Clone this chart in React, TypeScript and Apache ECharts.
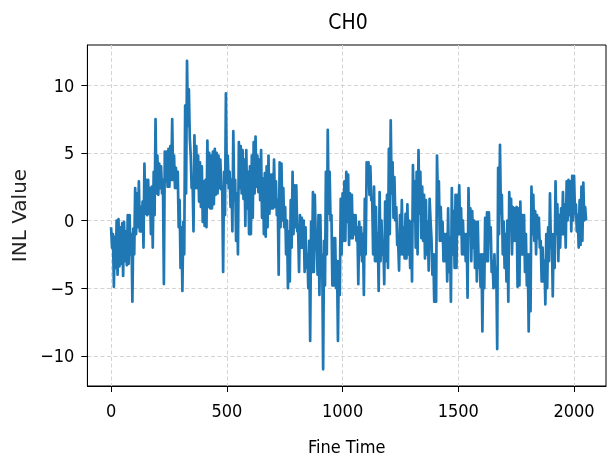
import React, { useEffect, useRef } from "react";
import * as echarts from "echarts";

const STEP = 8;
const upper0 = [-0.5, -1.0, -1.2, 0.0, 0.1, -0.5, -0.2, -0.1, -0.8, 0.4, 0.4, -1.0, -0.6, 2.4, 2.0, 2.9, 1.0, 1.4, 4.2, 3.0, 3.0, 2.4, 2.5, 3.6, 7.5, 4.8, 4.2, 4.0, 3.0, 5.1, 5.1, 5.3, 5.5, 7.5, 4.8];
const lower0 = [-2.0, -4.9, -3.5, -4.0, -3.4, -3.2, -4.1, -3.0, -3.3, -3.2, -2.5, -6.0, -2.5, -1.0, -0.5, -0.8, -0.8, -2.0, 0.5, 0.4, 0.5, -1.0, -2.0, 0.4, 2.0, 1.9, 2.4, 2.0, -4.7, 2.9, 2.5, 2.5, 3.0, 3.0, 2.4];
const upper1 = [3.9, 3.6, 1.5, -0.5, -0.1, 8.5, 11.8, 9.7, 4.8, 3.0, 6.3, 5.5, 4.8, 4.3, 4.0, 2.9, 3.0, 5.9, 5.0, 4.8, 5.1, 5.3, 5.0, 4.8, 4.5, 2.5, 3.6, 9.4, 4.8, 3.6, 3.0, 6.6, 3.0, 2.0, 5.8, 5.5, 5.2];
const lower1 = [2.4, -0.5, -3.5, -5.2, -2.5, 2.0, 7.0, 6.1, 2.4, -0.8, 2.4, 2.4, 1.4, 1.0, -0.1, -0.4, -0.5, 1.0, 0.9, 0.9, 1.2, 1.9, 2.0, 2.4, 2.3, -3.8, 0.4, 2.8, 2.4, 1.0, -0.8, 1.5, -1.5, -2.5, 2.4, 2.0, 1.6];
const upper2 = [4.5, 5.2, 3.6, 4.0, 4.8, 5.8, 6.2, 4.8, 4.5, 5.2, 3.1, 3.5, 4.0, 4.8, 3.4, 3.4, 4.5, 2.9, 1.5, 4.3, 4.2, 2.4, 1.0, 0.0, -0.8, 1.5, 3.6, 2.6, 2.6, -0.6, 0.4, 0.2, 0.0, -0.5, -2.5, -1.5, -0.1];
const lower2 = [-0.4, 0.9, -1.0, -1.0, 0.2, 2.0, 2.5, 2.1, 1.5, 0.2, -1.0, -1.2, -0.5, 0.5, 0.9, 0.9, 1.0, 0.4, -4.0, -0.5, 0.0, -0.5, -2.5, -5.0, -4.5, -2.0, -1.0, -0.5, -0.8, -3.8, -2.0, -2.0, -3.8, -3.5, -5.0, -8.9, -3.8];
const upper3 = [2.1, 1.9, -1.5, 0.4, 0.4, -2.5, -1.5, 3.6, 6.7, 3.6, 0.4, -1.3, -1.3, -3.0, -3.0, 1.6, 2.0, 2.9, 3.6, 3.4, 2.0, 1.9, 0.4, 0.4, -0.5, -0.1, -0.5, -1.0, 1.6, 4.3, 4.3, 4.0, 1.6, 2.5, 1.0, -1.0];
const lower3 = [-3.8, -1.3, -4.0, -5.5, -3.8, -11.0, -4.8, -2.5, 0.5, 0.0, -4.8, -4.8, -5.0, -8.9, -5.5, -2.5, -1.5, -1.5, -0.1, -1.8, -1.3, -1.3, -1.0, -1.5, -4.7, -2.5, -3.0, -5.5, -2.5, 2.9, 1.9, 1.5, -2.5, -3.0, -3.0, -5.2];
const upper4 = [2.1, 0.0, -1.5, 1.4, 1.9, 5.3, 7.4, 4.3, 3.2, 1.0, -1.5, 0.4, 1.5, -0.5, 0.5, 1.2, 0.0, -0.1, 4.1, 2.9, 3.6, 5.2, 3.6, 2.5, 1.9, 1.5, -0.1, 1.6, -1.3, -2.5, -2.5, 4.8, 2.9, 1.0, -0.1, -1.0, -1.0];
const lower4 = [-3.0, -2.5, -4.7, -3.0, -3.5, -1.0, 2.0, 0.2, 0.0, -1.8, -3.7, -2.5, -2.5, -2.8, -2.8, -2.5, -3.5, -4.5, 0.0, -2.0, -2.5, 0.5, -1.3, -1.5, -2.8, -2.5, -3.7, 0.0, -4.0, -6.0, -6.0, 1.2, -1.5, -1.5, -3.0, -3.0, -4.5];
const upper5 = [0.9, -1.3, 2.4, 0.7, 1.9, 1.9, 2.6, 0.9, 0.0, -1.0, -1.0, 2.4, 0.9, 0.7, 0.0, -0.1, -0.1, -2.5, -2.5, -2.5, 0.2, 0.6, 0.6, -0.5, -3.0, -2.5, -3.5, 3.9, 5.6, 1.9, -0.1, -1.0, 0.0, 2.1, 1.6, 1.0, 0.9];
const lower5 = [-3.8, -6.0, -2.5, -3.5, -3.5, -1.0, -1.0, -2.5, -2.5, -3.0, -5.7, -1.0, -3.0, -2.0, -3.5, -4.5, -3.5, -4.9, -8.2, -5.0, -3.0, -3.0, -1.5, -3.8, -5.0, -4.9, -9.5, -1.0, 0.5, -2.5, -3.5, -4.5, -6.0, -0.1, -2.5, -1.5, -1.5];
const upper6 = [1.0, 0.9, 1.4, 0.4, 0.4, -1.0, -2.5, -2.5, 2.5, 1.9, 0.7, 0.4, 0.2, -1.5, -2.0, -3.0, -1.0, -0.5, 2.0, -1.0, -1.0, 2.9, 1.2, 0.4, 0.9, 2.1, 1.2, 2.9, 3.0, 2.9, 3.3, 3.3, 1.2, 0.4, 1.5, 2.5, 2.8, 1.0];
const lower6 = [-4.9, -4.8, -2.5, -2.5, -3.8, -4.8, -8.2, -6.7, -1.0, -1.5, -2.5, -1.3, -2.0, -4.5, -4.5, -6.2, -5.0, -3.0, -2.0, -5.6, -3.5, -1.0, -3.0, -2.0, -1.0, -1.0, -2.0, 0.0, 0.4, -0.8, 0.0, 0.5, -0.8, -2.0, -1.8, -1.5, 0.0, 0.0];

const xTicks = [0, 500, 1000, 1500, 2000];
const yTicks = [-10, -5, 0, 5, 10];

const TITLE = "CH0";
const X_NAME = "Fine Time";
const Y_NAME = "INL Value";

const FONT_H = "'DejaVu Sans Condensed', 'DejaVu Sans', sans-serif";
const FONT = "'DejaVu Sans', sans-serif";

const fmt = (v: number) => String(v).replace("-", "\u2212");

export default function App() {
  const ref = useRef<HTMLDivElement>(null);
  useEffect(() => {
    if (!ref.current) return;
    const chart = echarts.init(ref.current, undefined, { renderer: "svg" });
    const upper = [...upper0, ...upper1, ...upper2, ...upper3, ...upper4, ...upper5, ...upper6];
    const lower = [...lower0, ...lower1, ...lower2, ...lower3, ...lower4, ...lower5, ...lower6];
    const data: number[][] = [];
    upper.forEach((u, j) => {
      data.push([j * STEP, u]);
      data.push([j * STEP + STEP / 2, lower[j]]);
    });
    const gridLine = { show: true, lineStyle: { color: "#d4d4d4", type: [4, 2.5], width: 1 } };
    chart.setOption({
      animation: false,
      title: {
        text: TITLE,
        left: 348,
        top: 11,
        padding: 0,
        textAlign: "center",
        textStyle: { fontFamily: FONT_H, fontSize: 21, fontWeight: "normal", color: "#000" },
      },
      grid: {
        left: 87.4,
        right: 2,
        top: 45,
        bottom: 75,
        show: true,
        borderColor: "#000",
        borderWidth: 1,
        containLabel: false,
        outerBoundsMode: "none",
      },
      xAxis: {
        type: "value",
        min: -102.35,
        max: 2138,
        name: X_NAME,
        nameLocation: "middle",
        nameGap: 51,
        nameTextStyle: { fontFamily: FONT_H, fontSize: 18, color: "#000" },
        axisLine: { show: true, onZero: false, lineStyle: { color: "#000", width: 1 } },
        axisTick: { show: true, length: 6, lineStyle: { color: "#000", width: 1 }, customValues: xTicks },
        axisLabel: { customValues: xTicks, margin: 15, fontSize: 18, color: "#000", fontFamily: FONT_H, formatter: fmt },
        splitLine: gridLine,
      },
      yAxis: {
        type: "value",
        min: -12.23,
        max: 12.97,
        name: Y_NAME,
        nameLocation: "middle",
        nameRotate: 90,
        nameGap: 54,
        nameTextStyle: { fontFamily: FONT, fontSize: 20, color: "#222" },
        axisLine: { show: true, onZero: false, lineStyle: { color: "#000", width: 1 } },
        axisTick: { show: true, length: 6, lineStyle: { color: "#000", width: 1 }, customValues: yTicks },
        axisLabel: { customValues: yTicks, margin: 13, fontSize: 18, color: "#000", fontFamily: FONT_H, formatter: fmt },
        splitLine: gridLine,
      },
      series: [
        {
          type: "line",
          data,
          showSymbol: false,
          symbol: "none",
          clip: true,
          lineStyle: { color: "#1f77b4", width: 2.7, join: "round" },
        },
      ],
    });
    return () => chart.dispose();
  }, []);
  return <div ref={ref} style={{ position: "fixed", left: 0, top: 0, width: 608, height: 461 }} />;
}
